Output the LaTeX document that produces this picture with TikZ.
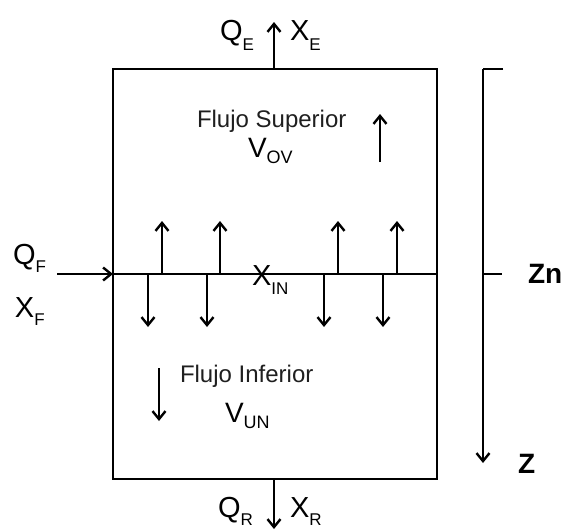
\documentclass[tikz,border=0pt]{standalone}
\usepackage{fontspec}
\setmainfont{Liberation Sans}
\usetikzlibrary{arrows.meta}
\newcommand\mainsub[3][10pt]{{\fontsize{29}{29}\selectfont #2}\raisebox{-#1}{\fontsize{17}{17}\selectfont #3}}
\newcommand\vsub[2]{{\fontsize{28}{28}\selectfont #1}\raisebox{-6pt}{\fontsize{18}{18}\selectfont #2}}
\tikzset{
  lbl/.style={anchor=base west, inner sep=0pt, outer sep=0pt},
  frame/.style={line width=2.8pt},
  flow/.style={line width=2.4pt, -{Straight Barb[length=8pt,width=13pt,line width=2.4pt]}},
  flowtxt/.style={lbl, font=\fontsize{24}{24}\selectfont, text=black!88},
  axlbl/.style={lbl, font=\fontsize{28}{28}\selectfont\bfseries}
}
\begin{document}
\begin{tikzpicture}[x=1pt,y=-1pt]
\useasboundingbox (0,0) rectangle (563,530);
\fill[white] (0,0) rectangle (563,530);
% box
\coordinate (tl) at (113,69);
\coordinate (br) at (437,479);
\draw[frame] (tl) rectangle (br);
% middle line
\coordinate (ml) at (113,274);
\coordinate (mr) at (437,274);
\draw[frame] (ml) -- (mr);
% top / bottom outlets
\coordinate (topin) at (274,69);
\coordinate (topout) at (274,22);
\draw[flow] (topin) -- (topout);
\coordinate (botin) at (274,479);
\coordinate (botout) at (274,529);
\draw[flow] (botin) -- (botout);
% feed
\coordinate (feed) at (57,274);
\draw[flow] (feed) -- (ml);
% up arrows
\foreach \x [count=\i] in {162,220,338,397}{
  \coordinate (u\i a) at (\x,274);
  \coordinate (u\i b) at (\x,221);
  \draw[flow] (u\i a) -- (u\i b);
}
% down arrows
\foreach \x [count=\i] in {148,207,324,383}{
  \coordinate (d\i a) at (\x,274);
  \coordinate (d\i b) at (\x,327);
  \draw[flow] (d\i a) -- (d\i b);
}
% flow direction arrows
\coordinate (sa) at (380,162);
\coordinate (sb) at (380,114);
\draw[flow] (sa) -- (sb);
\coordinate (ia) at (159,368);
\coordinate (ib) at (159,421);
\draw[flow] (ia) -- (ib);
% axis
\coordinate (axtopr) at (503,69);
\coordinate (axtop) at (483,69);
\coordinate (axend) at (483,463);
\coordinate (axmid) at (483,274);
\coordinate (axmidr) at (502,274);
\draw[line width=2.4pt] (axtopr) -- (axtop);
\draw[flow] (axtop) -- (axend);
\draw[line width=2.4pt] (axmid) -- (axmidr);
% labels
\node[lbl] (qe) at (220,40) {\mainsub{Q}{E}};
\node[lbl] (xe) at (290,40) {\mainsub{X}{E}};
\node[lbl] (qr) at (218,517) {\mainsub[8pt]{Q}{R}};
\node[lbl] (xr) at (290,517) {\mainsub[8pt]{X}{R}};
\node[lbl] (qf) at (13,264) {\mainsub[8pt]{Q}{F}};
\node[lbl] (xf) at (15,317) {\mainsub[8pt]{X}{F}};
\node[lbl] (xin) at (252,285) {\mainsub[9pt]{X}{IN}};
\node[flowtxt] (fs) at (197,127) {Flujo Superior};
\node[lbl] (vov) at (248,157) {\vsub{V}{OV}};
\node[flowtxt] (fi) at (180,382) {Flujo Inferior};
\node[lbl] (vun) at (225,422) {\vsub{V}{UN}};
\node[axlbl] (zn) at (528,283) {Zn};
\node[axlbl] (z) at (518,473) {Z};
\end{tikzpicture}
\end{document}
